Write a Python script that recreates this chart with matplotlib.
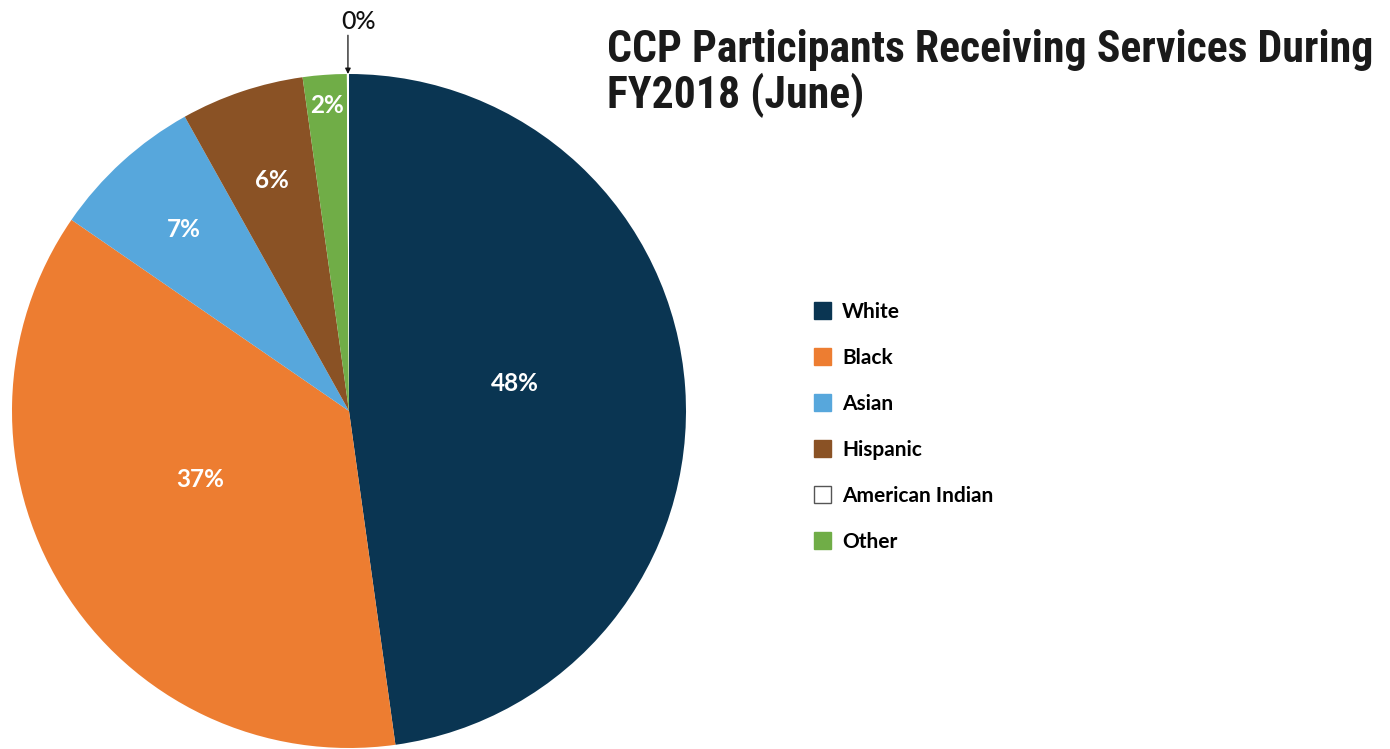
import numpy as np
import matplotlib.pyplot as plt
from matplotlib.patches import Patch

# share of participants by race (percent), legend order
groups = ["White", "Black", "Asian", "Hispanic", "American Indian", "Other"]
shares = [47.8, 36.8, 7.3, 5.9, 0.1, 2.1]
colors = ["#0a3552", "#ed7d31", "#57a7dc", "#8a5225", "#ffffff", "#70ad47"]
# order of the slices going clockwise from 12 o'clock
pie_order = [0, 1, 2, 3, 5, 4]
# label radius and angular nudge (degrees, counter-clockwise) per slice
label_dist = [0.50, 0.485, 0.73, 0.72, None, 0.91]
label_turn = [5.5, -7.0, 0.0, 0.0, 0.0, 0.0]

title = "CCP Participants Receiving Services During\nFY2018 (June)"

fig = plt.figure(figsize=(13.9, 7.49), dpi=100)
ax = fig.add_axes([12 / 1390, 1 / 749, 674 / 1390, 674 / 749])

wedges, _ = ax.pie([shares[i] for i in pie_order], colors=[colors[i] for i in pie_order],
                   startangle=90, counterclock=False, radius=1.0,
                   wedgeprops=dict(linewidth=0))
ax.set_xlim(-1, 1)
ax.set_ylim(-1, 1)
ax.set_aspect("equal")
ax.axis("off")

lab_family = ["Lato", "DejaVu Sans"]
for w, i in zip(wedges, pie_order):
    val, d = shares[i], label_dist[i]
    mid = np.deg2rad((w.theta1 + w.theta2) / 2 + label_turn[i])
    if d is None:
        # tiny slice: label sits above the rim with a straight arrow down
        x = np.cos(mid)
        ax.annotate("", xy=(x, 1.0), xytext=(x, 1.115),
                    arrowprops=dict(arrowstyle="-|>", color="#111111", lw=0.9,
                                    mutation_scale=8, shrinkA=0, shrinkB=0),
                    annotation_clip=False)
        ax.text(x + 0.032, 1.156, f"{val:.0f}%", ha="center", va="center",
                color="#111111", family=lab_family, weight="medium", fontsize=18,
                clip_on=False)
        continue
    ax.text(d * np.cos(mid), d * np.sin(mid), f"{val:.0f}%", ha="center", va="center",
            color="white", family=lab_family, weight="bold", fontsize=17.5)

fig.text(607 / 1390, 1 - 108 / 749, title, ha="left", va="baseline",
         family=["Roboto Condensed", "DejaVu Sans"], stretch="condensed", weight="bold",
         fontsize=31.5, linespacing=1.05, color="#1a1a1a")

handles = [Patch(facecolor=c, edgecolor=("#555555" if c == "#ffffff" else c), lw=1)
           for c in colors]
leg = fig.legend(handles, groups, loc="upper left",
                 bbox_to_anchor=(795 / 1390, 1 - 283 / 749), frameon=False,
                 prop=dict(family=lab_family, weight="bold", size=15),
                 handlelength=0.85, handleheight=0.85, handletextpad=0.5,
                 labelspacing=1.25)

fig.savefig("out.png", dpi=100, facecolor="white")
